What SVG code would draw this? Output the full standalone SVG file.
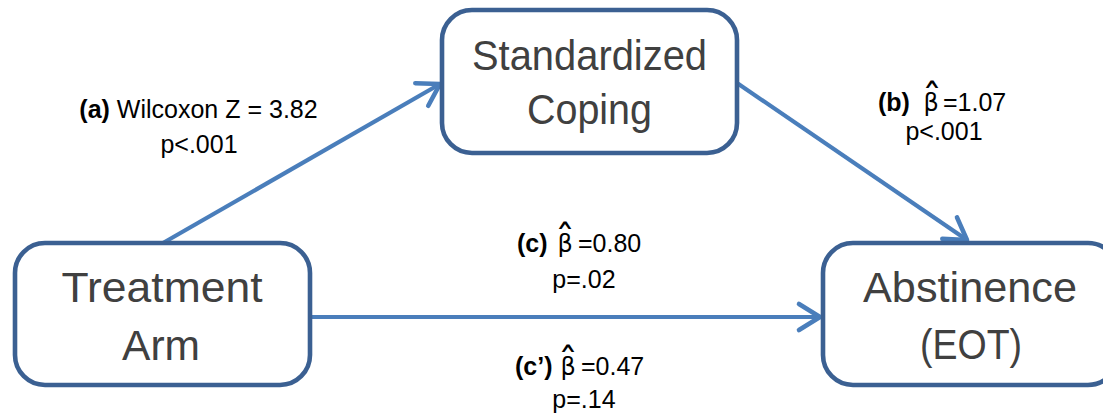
<svg xmlns="http://www.w3.org/2000/svg" width="1103" height="413" viewBox="0 0 1103 413">
  <style>
    .box { fill: #FFFFFF; stroke: #3B6092; stroke-width: 4.6; }
    .boxtext { font-family: "Liberation Sans", Arial, sans-serif; font-size: 42px; fill: #404040; text-anchor: middle; }
    .edge { fill: none; stroke: #4A7EBB; stroke-width: 4.2; marker-end: url(#arrow); }
    .label { font-family: "Liberation Sans", Arial, sans-serif; font-size: 25px; fill: #000000; }
    .mid { text-anchor: middle; }
    .tag { font-weight: bold; }
    .beta { font-family: "DejaVu Sans", "Liberation Sans", sans-serif; font-size: 24px; }
    .hat { font-family: "DejaVu Sans", sans-serif; font-size: 40px; }
  </style>
  <defs>
    <!-- open stick arrowhead in user units -->
    <marker id="arrow" markerUnits="userSpaceOnUse" orient="auto" overflow="visible"
            markerWidth="30" markerHeight="30" refX="0" refY="0">
      <path d="M-21,-13 L0,0 L-21,13" fill="none" stroke="#4A7EBB" stroke-width="4.6"
            stroke-linecap="round" stroke-linejoin="round"/>
    </marker>
  </defs>

  <rect width="1103" height="413" fill="#FFFFFF"/>

  <!-- connectors -->
  <g id="connectors">
    <line class="edge" x1="163" y1="243" x2="440" y2="84"/>
    <line class="edge" x1="737" y1="83" x2="967" y2="240"/>
    <line class="edge" x1="310" y1="317" x2="820" y2="317"/>
  </g>

  <!-- nodes -->
  <g id="node-treatment">
    <rect class="box" x="15" y="243" width="295" height="142" rx="30" ry="30"/>
    <text class="boxtext" x="162" y="302" textLength="201" lengthAdjust="spacingAndGlyphs">Treatment</text>
    <text class="boxtext" x="161" y="360" textLength="78" lengthAdjust="spacingAndGlyphs">Arm</text>
  </g>

  <g id="node-coping">
    <rect class="box" x="442" y="10" width="295" height="143" rx="30" ry="30"/>
    <text class="boxtext" x="589.5" y="70" textLength="235" lengthAdjust="spacingAndGlyphs">Standardized</text>
    <text class="boxtext" x="589.5" y="124" textLength="125" lengthAdjust="spacingAndGlyphs">Coping</text>
  </g>

  <g id="node-abstinence">
    <rect class="box" x="823" y="243" width="295" height="142" rx="30" ry="30"/>
    <text class="boxtext" x="970" y="302" textLength="214" lengthAdjust="spacingAndGlyphs">Abstinence</text>
    <text class="boxtext" x="971" y="359" textLength="102" lengthAdjust="spacingAndGlyphs">(EOT)</text>
  </g>

  <!-- path labels; the estimate hat sits over the beta in the same text run -->
  <g id="label-a">
    <text class="label mid" x="198.5" y="118"><tspan class="tag">(a)</tspan> Wilcoxon Z = 3.82</text>
    <text class="label mid" x="199" y="153">p&lt;.001</text>
  </g>

  <g id="label-b">
    <text class="label" x="878" y="111"><tspan class="tag">(b)</tspan><tspan class="beta" x="923.5">β</tspan><tspan class="hat" x="922" y="113">ˆ</tspan><tspan x="943" y="111">=1.07</tspan></text>
    <text class="label mid" x="944" y="140">p&lt;.001</text>
  </g>

  <g id="label-c">
    <text class="label" x="517" y="252"><tspan class="tag">(c)</tspan><tspan class="beta" x="557.5">β</tspan><tspan class="hat" x="555" y="254">ˆ</tspan><tspan x="578" y="252">=0.80</tspan></text>
    <text class="label mid" x="584" y="288">p=.02</text>
  </g>

  <g id="label-c-prime">
    <text class="label" x="515" y="375"><tspan class="tag">(c’)</tspan><tspan class="beta" x="560.5">β</tspan><tspan class="hat" x="558" y="377">ˆ</tspan><tspan x="581" y="375">=0.47</tspan></text>
    <text class="label mid" x="584" y="408">p=.14</text>
  </g>
</svg>
